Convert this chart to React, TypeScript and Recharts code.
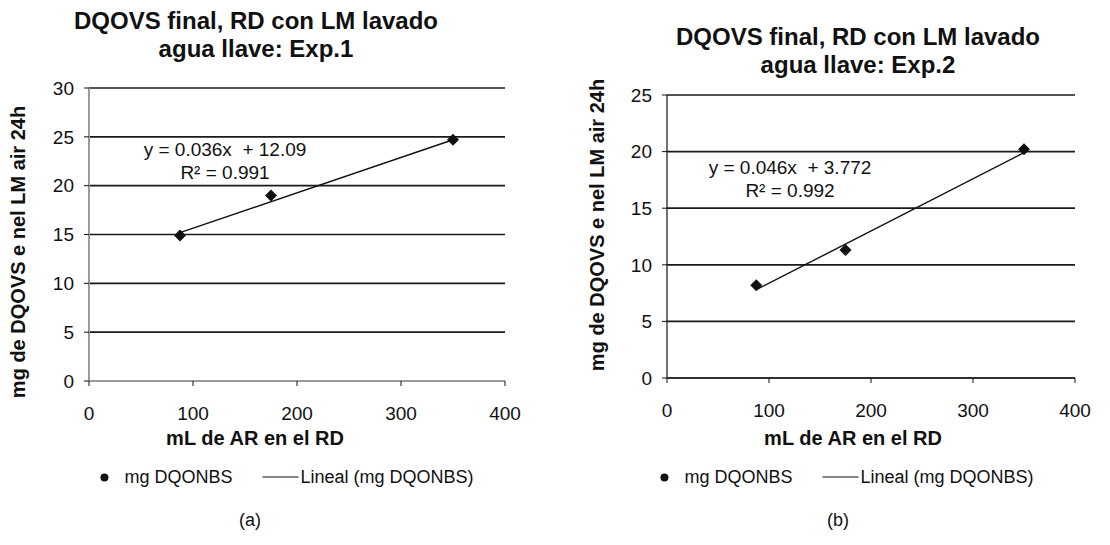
import { ComposedChart, Scatter, Line, XAxis, YAxis, CartesianGrid } from "recharts";

const FONT = "'Liberation Sans', Arial, sans-serif";

// mL de AR en el RD
const mlAR = [87.5, 175, 350];
// mg DQONBS por experimento
const dqoExp1 = [14.9, 19.0, 24.7];
const dqoExp2 = [8.2, 11.3, 20.2];
// extremos de la línea de tendencia (Lineal)
const trendX = [87.5, 350];
const trendExp1 = [15.2, 24.7];
const trendExp2 = [7.8, 19.9];

const xTicks = [0, 100, 200, 300, 400];
const yTicksExp1 = [0, 5, 10, 15, 20, 25, 30];
const yTicksExp2 = [0, 5, 10, 15, 20, 25];

const titleLine1 = "DQOVS final, RD con LM lavado";
const yTitle = "mg de DQOVS e nel LM air 24h";
const xTitle = "mL de AR en el RD";
const legendPoints = "mg DQONBS";
const legendTrend = "Lineal (mg DQONBS)";

const Diamond = (props: any) => {
  const { cx, cy } = props;
  if (cx == null || cy == null) return null;
  const r = 6;
  return (
    <polygon
      points={`${cx},${cy - r} ${cx + r},${cy} ${cx},${cy + r} ${cx - r},${cy}`}
      fill="#111"
    />
  );
};

const abs = (x: number, y: number, extra: any = {}) => ({
  position: "absolute" as const,
  left: x,
  top: y,
  transform: "translate(-50%, -50%)",
  whiteSpace: "nowrap" as const,
  fontFamily: FONT,
  color: "#111",
  ...extra,
});

type PanelProps = {
  offsetX: number;
  points: number[];
  trend: number[];
  yTicks: number[];
  yMax: number;
  margin: { top: number; right: number; bottom: number; left: number };
  axisColor: string;
  axisWidth: number;
  subtitle: string;
  eq: string;
  r2: string;
  titleX: number;
  titleY: number;
  yTitleX: number;
  yTitleY: number;
  xTitleX: number;
  eqX: number;
  eqY: number;
  legendX: number;
  caption: string;
  captionX: number;
};

const Panel = (p: PanelProps) => {
  const scatterData = mlAR.map((x, i) => ({ x, y: p.points[i] }));
  const trendData = trendX.map((x, i) => ({ x, y: p.trend[i] }));
  const tickStyle = { fontSize: 19, fill: "#111", fontFamily: FONT };
  return (
    <>
      <div style={{ position: "absolute", left: p.offsetX, top: 0 }}>
        <ComposedChart width={555} height={545} margin={p.margin}>
          <CartesianGrid vertical={false} stroke="#1a1a1a" strokeWidth={1.7} />
          <XAxis
            type="number"
            dataKey="x"
            domain={[0, 400]}
            ticks={xTicks}
            height={30}
            tick={tickStyle}
            tickSize={5}
            tickMargin={21}
            axisLine={{ stroke: p.axisColor, strokeWidth: p.axisWidth }}
            tickLine={{ stroke: "#111" }}
            allowDataOverflow
          />
          <YAxis
            type="number"
            dataKey="y"
            domain={[0, p.yMax]}
            ticks={p.yTicks}
            width={80}
            tick={tickStyle}
            tickSize={5}
            tickMargin={10}
            axisLine={{ stroke: p.axisColor, strokeWidth: p.axisWidth }}
            tickLine={{ stroke: "#111" }}
          />
          <Line
            data={trendData}
            dataKey="y"
            type="linear"
            stroke="#111"
            strokeWidth={1.4}
            dot={false}
            activeDot={false}
            isAnimationActive={false}
          />
          <Scatter data={scatterData} dataKey="y" shape={<Diamond />} isAnimationActive={false} />
        </ComposedChart>
      </div>
      <div style={abs(p.titleX, p.titleY, { fontSize: 24, fontWeight: 700, textAlign: "center", lineHeight: "28px", transform: "translate(-50%, 0)" })}>
        {titleLine1}
        <br />
        {p.subtitle}
      </div>
      <div style={abs(p.yTitleX, p.yTitleY, { fontSize: 20, fontWeight: 700, transform: "translate(-50%, -50%) rotate(-90deg)" })}>
        {yTitle}
      </div>
      <div style={abs(p.xTitleX, 438, { fontSize: 20, fontWeight: 700 })}>{xTitle}</div>
      <div style={abs(p.eqX, p.eqY, { fontSize: 19, textAlign: "center", lineHeight: "23px", whiteSpace: "pre", transform: "translate(-50%, 0)" })}>
        {p.eq}
        <br />
        {p.r2}
      </div>
      <div style={abs(p.legendX, 477, { fontSize: 18, display: "flex", alignItems: "center" })}>
        <span style={{ display: "inline-block", width: 8, height: 8, borderRadius: 4, background: "#111", marginRight: 16 }} />
        <span>{legendPoints}</span>
        <span style={{ display: "inline-block", width: 36, height: 0, borderTop: "1.4px solid #111", margin: "0 2px 0 30px" }} />
        <span>{legendTrend}</span>
      </div>
      <div style={abs(p.captionX, 520, { fontSize: 18 })}>{p.caption}</div>
    </>
  );
};

export default function App() {
  return (
    <div style={{ position: "absolute", left: 0, top: 0, width: 1110, height: 545, background: "#fff", overflow: "hidden" }}>
      <Panel
        offsetX={0}
        points={dqoExp1}
        trend={trendExp1}
        yTicks={yTicksExp1}
        yMax={30}
        margin={{ top: 88, right: 50, bottom: 134, left: 9 }}
        axisColor="#9a9a9a"
        axisWidth={2}
        subtitle="agua llave: Exp.1"
        eq="y = 0.036x  + 12.09"
        r2="R² = 0.991"
        titleX={256}
        titleY={7}
        yTitleX={18}
        yTitleY={252}
        xTitleX={255}
        eqX={225}
        eqY={138}
        legendX={287}
        caption="(a)"
        captionX={250}
      />
      <Panel
        offsetX={555}
        points={dqoExp2}
        trend={trendExp2}
        yTicks={yTicksExp2}
        yMax={25}
        margin={{ top: 95, right: 35, bottom: 137, left: 32 }}
        axisColor="#111"
        axisWidth={1.2}
        subtitle="agua llave: Exp.2"
        eq="y = 0.046x  + 3.772"
        r2="R² = 0.992"
        titleX={858}
        titleY={23}
        yTitleX={597}
        yTitleY={225}
        xTitleX={853}
        eqX={790}
        eqY={156}
        legendX={847}
        caption="(b)"
        captionX={838}
      />
    </div>
  );
}
